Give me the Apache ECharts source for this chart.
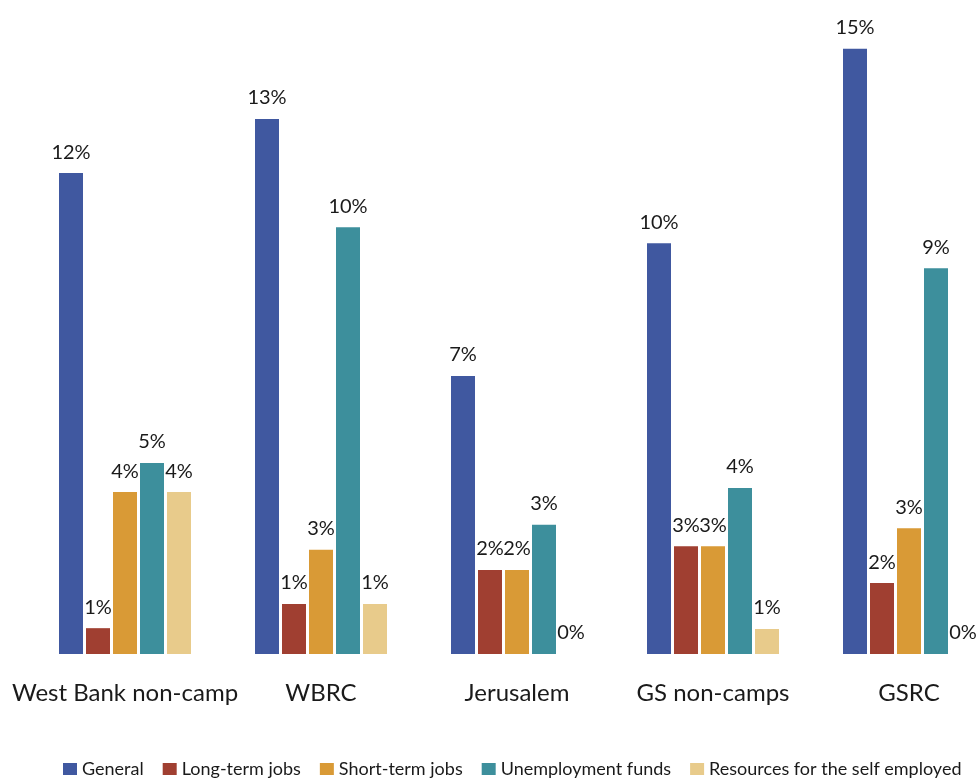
<!DOCTYPE html>
<html>
<head>
<meta charset="utf-8">
<script src="https://cdn.jsdelivr.net/npm/echarts@6/dist/echarts.min.js"></script>
<style>
  html, body { margin: 0; padding: 0; background: #fff; }
  #main { width: 978px; height: 778px; }
</style>
</head>
<body>
<div id="main"></div>
<script>
// regions
var categories = ['West Bank non-camp', 'WBRC', 'Jerusalem', 'GS non-camps', 'GSRC'];

// share of respondents (%)
var general = [11.73, 13.05, 6.78, 10.02, 14.76];
var longTerm = [0.63, 1.22, 2.05, 2.63, 1.73];
var shortTerm = [3.95, 2.54, 2.05, 2.63, 3.07];
var unemployment = [4.66, 10.41, 3.15, 4.05, 9.41];
var selfEmployed = [3.95, 1.22, 0, 0.61, 0];

var seriesNames = ['General', 'Long-term jobs', 'Short-term jobs', 'Unemployment funds', 'Resources for the self employed'];
var seriesColors = ['#4058a0', '#a03f31', '#d99a36', '#3d8f9c', '#e8cb8b'];

var myChart = echarts.init(document.getElementById('main'));

var font = 'Lato';

function makeSeries(name, data, color) {
    return {
        name: name,
        type: 'bar',
        data: data,
        barWidth: 24,
        barGap: '12.5%',
        itemStyle: {
            color: color
        },
        label: {
            show: true,
            position: 'top',
            distance: 11,
            color: '#1a1a1a',
            fontFamily: font,
            fontSize: 20,
            formatter: function (p) {
                return Math.round(p.value) + '%';
            }
        }
    };
}

var option = {
    animation: false,
    textStyle: {
        fontFamily: font
    },
    legend: {
        data: seriesNames,
        top: 755,
        left: 58,
        itemWidth: 14,
        itemHeight: 12,
        itemGap: 19,
        icon: 'rect',
        textStyle: {
            color: '#1a1a1a',
            fontFamily: font,
            fontSize: 18
        }
    },
    grid: {
        left: 27,
        top: -2,
        width: 980,
        height: 656,
        outerBoundsMode: 'none'
    },
    xAxis: {
        type: 'category',
        data: categories,
        axisLine: { show: false },
        axisTick: { show: false },
        axisLabel: {
            interval: 0,
            color: '#1a1a1a',
            fontFamily: font,
            fontSize: 24,
            margin: 27
        }
    },
    yAxis: {
        type: 'value',
        min: 0,
        max: 16,
        show: false
    },
    series: [
        makeSeries(seriesNames[0], general, seriesColors[0]),
        makeSeries(seriesNames[1], longTerm, seriesColors[1]),
        makeSeries(seriesNames[2], shortTerm, seriesColors[2]),
        makeSeries(seriesNames[3], unemployment, seriesColors[3]),
        makeSeries(seriesNames[4], selfEmployed, seriesColors[4])
    ]
};

myChart.setOption(option);
</script>
</body>
</html>
